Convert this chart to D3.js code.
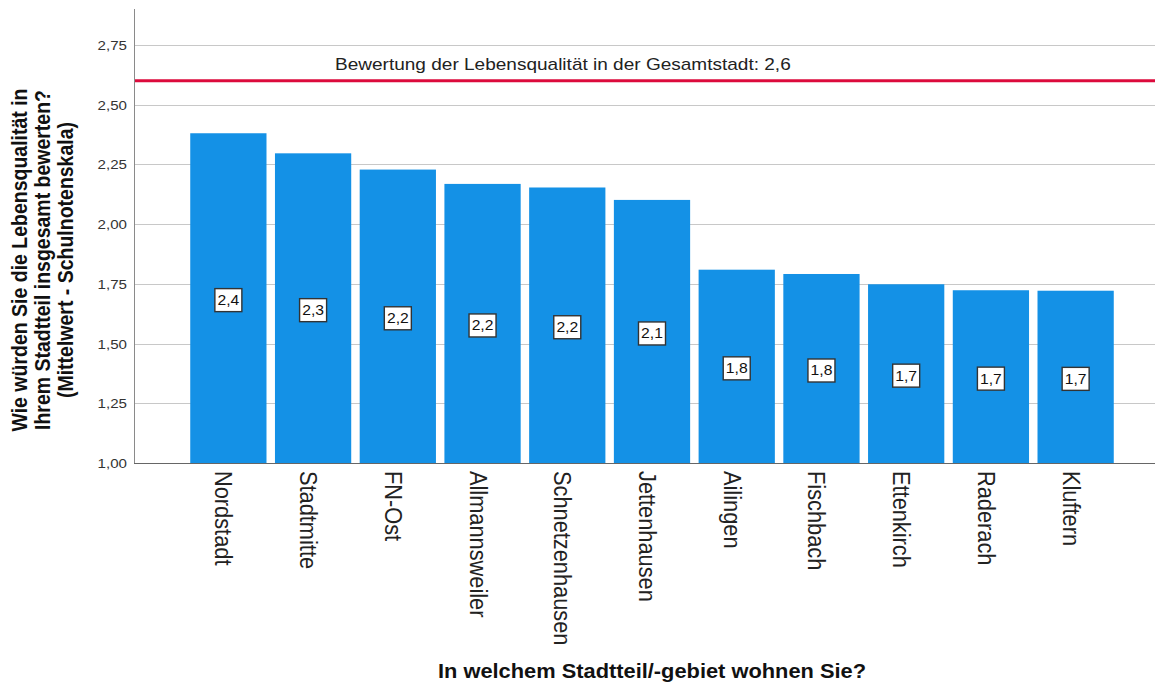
<!DOCTYPE html>
<html>
<head>
<meta charset="UTF-8">
<style>
    body { margin: 0; background: #fff; }
    svg { display: block; }
    text { font-family: "Liberation Sans", Arial, sans-serif; }
    .grid line { stroke: #c8c8c8; stroke-width: 1; }
    .bar { fill: #1491e6; }
</style>
</head>
<body>
<script src="https://cdn.jsdelivr.net/npm/d3@7"></script>
<script>
// data
var districts = ["Nordstadt", "Stadtmitte", "FN-Ost", "Allmannsweiler", "Schnetzenhausen",
                 "Jettenhausen", "Ailingen", "Fischbach", "Ettenkirch", "Raderach", "Kluftern"];
var means = [2.380, 2.296, 2.228, 2.168, 2.153, 2.101, 1.809, 1.791, 1.748, 1.723, 1.721];
var yTicks = [1.00, 1.25, 1.50, 1.75, 2.00, 2.25, 2.50, 2.75];
var cityMean = 2.6;
var cityLabel = "Bewertung der Lebensqualität in der Gesamtstadt: ";
var yTitle = ["Wie würden Sie die Lebensqualität in",
              "Ihrem Stadtteil insgesamt bewerten?",
              "(Mittelwert - Schulnotenskala)"];
var xTitle = "In welchem Stadtteil/-gebiet wohnen Sie?";

var Chart = (function() {
    var width = 1165, height = 687;
    var plotLeft = 134, plotRight = 1155, plotTop = 9, plotBottom = 463;
    var sx = 1.12; // the original picture is a bit stretched sideways

    var comma = function(v, f) { return d3.format(f)(v).replace(".", ","); };

    function draw() {
        var svg = d3.select("body").append("svg")
            .attr("width", width).attr("height", height);

        var x = d3.scaleBand()
            .domain(districts)
            .range([186, 1118])
            .paddingInner(0.1)
            .paddingOuter(0.05);

        var y = d3.scaleLinear()
            .domain([1, 2.9])
            .range([plotBottom, plotTop]);

        // gridlines
        svg.append("g").attr("class", "grid")
            .selectAll("line").data(yTicks.slice(1)).enter().append("line")
            .attr("x1", plotLeft).attr("x2", plotRight)
            .attr("y1", function(d) { return Math.round(y(d)) + 0.5; })
            .attr("y2", function(d) { return Math.round(y(d)) + 0.5; });

        // y tick labels
        svg.append("g").selectAll("text").data(yTicks).enter().append("text")
            .attr("transform", function(d) { return "translate(127," + (y(d) + 5) + ") scale(" + sx + ",1)"; })
            .attr("text-anchor", "end")
            .attr("font-size", 13.5)
            .attr("fill", "#333")
            .text(function(d) { return comma(d, ".2f"); });

        // bars
        svg.append("g").selectAll("rect").data(means).enter().append("rect")
            .attr("class", "bar")
            .attr("x", function(d, i) { return x(districts[i]); })
            .attr("width", x.bandwidth())
            .attr("y", function(d) { return y(d); })
            .attr("height", function(d) { return y(1) - y(d); });

        // axis lines
        svg.append("line")
            .attr("x1", plotLeft + 0.5).attr("x2", plotLeft + 0.5)
            .attr("y1", plotTop).attr("y2", plotBottom)
            .attr("stroke", "#8a8a8a").attr("stroke-width", 1);
        svg.append("line")
            .attr("x1", plotLeft).attr("x2", plotRight)
            .attr("y1", plotBottom + 0.5).attr("y2", plotBottom + 0.5)
            .attr("stroke", "#666").attr("stroke-width", 1);

        // reference line for the whole town
        svg.append("line")
            .attr("x1", plotLeft + 1).attr("x2", plotRight)
            .attr("y1", y(cityMean)).attr("y2", y(cityMean))
            .attr("stroke", "#dc0a3c").attr("stroke-width", 3);
        svg.append("text")
            .attr("transform", "translate(335," + (y(cityMean) - 11) + ") scale(" + sx + ",1)")
            .attr("font-size", 17)
            .attr("fill", "#222")
            .text(cityLabel + comma(cityMean, ".1f"));

        // value boxes in the middle of each bar
        var boxes = svg.append("g").selectAll("g").data(means).enter().append("g")
            .attr("transform", function(d, i) {
                return "translate(" + (x(districts[i]) + x.bandwidth() / 2) + "," + ((y(d) + y(1)) / 2 + 2) + ")";
            });
        boxes.append("rect")
            .attr("x", -13.5).attr("y", -11.5)
            .attr("width", 27).attr("height", 23)
            .attr("fill", "#fff").attr("stroke", "#333").attr("stroke-width", 1.4);
        boxes.append("text")
            .attr("transform", "translate(0,5) scale(" + sx + ",1)")
            .attr("text-anchor", "middle")
            .attr("font-size", 14)
            .attr("fill", "#111")
            .text(function(d) { return comma(d, ".1f"); });

        // category labels, turned to read downwards
        svg.append("g").selectAll("text").data(districts).enter().append("text")
            .attr("transform", function(d) {
                return "translate(" + (x(d) + x.bandwidth() / 2 - 13) + ",471) scale(" + sx + ",1) rotate(90)";
            })
            .attr("font-size", 21.8)
            .attr("fill", "#222")
            .text(function(d) { return d; });

        // axis titles
        svg.append("text")
            .attr("transform", "translate(652,678) scale(" + sx + ",1)")
            .attr("text-anchor", "middle")
            .attr("font-size", 19.5)
            .attr("font-weight", "bold")
            .attr("fill", "#111")
            .text(xTitle);

        svg.append("g").selectAll("text").data(yTitle).enter().append("text")
            .attr("transform", function(d, i) {
                return "translate(" + (27 + i * 23) + ",260) scale(" + sx + ",1) rotate(-90)";
            })
            .attr("text-anchor", "middle")
            .attr("font-size", 19.5)
            .attr("font-weight", "bold")
            .attr("fill", "#111")
            .text(function(d) { return d; });
    }

    return { Draw: draw };
})();

Chart.Draw();
</script>
</body>
</html>
